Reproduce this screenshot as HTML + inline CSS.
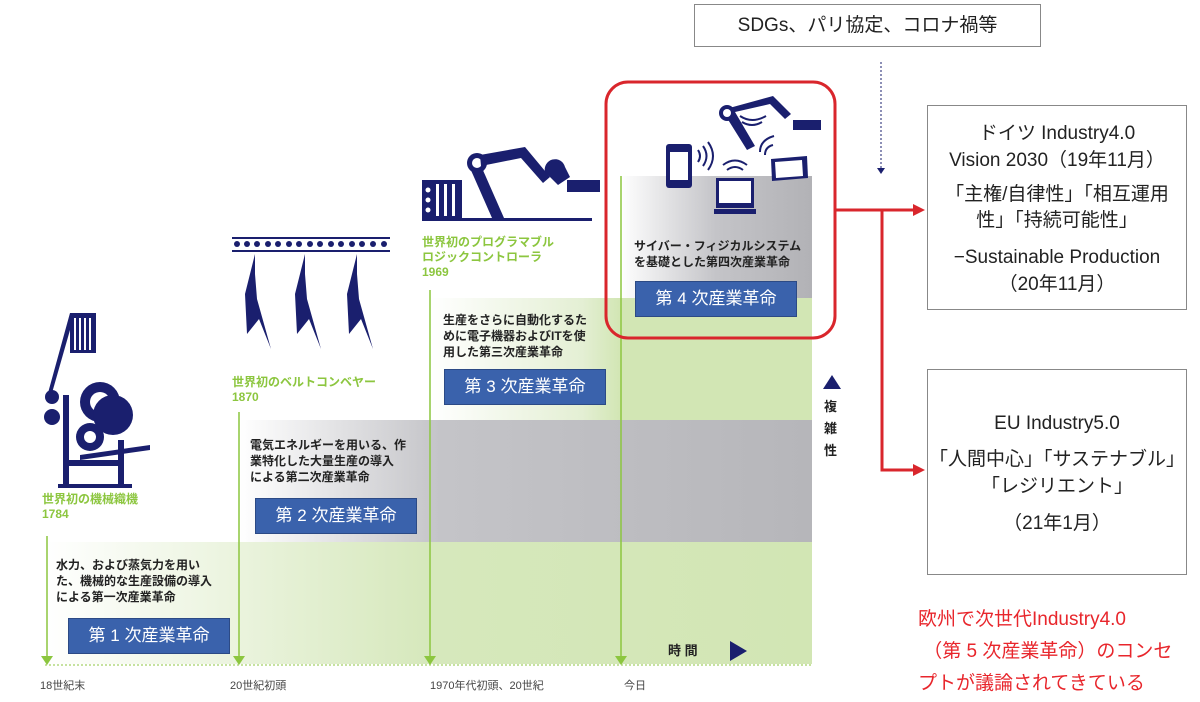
<!DOCTYPE html>
<html><head><meta charset="utf-8"><style>
body{margin:0;width:1200px;height:702px;background:#fff;position:relative;overflow:hidden;font-family:"Liberation Sans","Noto Sans CJK JP",sans-serif}
.a{position:absolute;white-space:nowrap}
.g{color:#8cc63f;font-size:12px;font-weight:bold;line-height:15px}
.d{color:#222;font-size:12px;font-weight:bold;line-height:16px}
.b{position:absolute;background:#3a62ac;color:#fff;font-size:17px;text-align:center;line-height:34px;border:1px solid #2c4a85;width:160px;height:34px}
.t{font-size:11px;color:#444}
.box{position:absolute;border:1px solid #888;background:#fff;text-align:center;color:#222;font-size:18px}
</style></head><body>
<svg class="a" style="left:0;top:0" width="1200" height="702">
<defs>
<linearGradient id="gr" x1="0" x2="1"><stop offset="0" stop-color="#fff"/><stop offset="0.5" stop-color="#d6e8bc"/><stop offset="1" stop-color="#d2e6b4"/></linearGradient>
<linearGradient id="gy" x1="0" x2="1"><stop offset="0" stop-color="#fff"/><stop offset="0.35" stop-color="#c4c4c8"/><stop offset="1" stop-color="#b6b6ba"/></linearGradient>
<linearGradient id="gr3" x1="0" x2="1"><stop offset="0" stop-color="#fff"/><stop offset="0.8" stop-color="#e4efd4"/><stop offset="1" stop-color="#d2e6b4"/></linearGradient>
<linearGradient id="gy4" x1="0" x2="1"><stop offset="0" stop-color="#fff"/><stop offset="0.5" stop-color="#c4c4c8"/><stop offset="1" stop-color="#b2b2b6"/></linearGradient>
</defs>
<rect x="45" y="542" width="767" height="122" fill="url(#gr)"/>
<rect x="240" y="420" width="572" height="122" fill="url(#gy)"/>
<rect x="430" y="298" width="190" height="122" fill="url(#gr3)"/>
<rect x="620" y="298" width="192" height="122" fill="#d2e6b4"/>
<rect x="620" y="176" width="192" height="122" fill="url(#gy4)"/>
<g stroke="#8cc63f" stroke-width="1.5" fill="none">
<line x1="47" y1="536" x2="47" y2="660"/><line x1="239" y1="412" x2="239" y2="660"/>
<line x1="430" y1="290" x2="430" y2="660"/><line x1="621" y1="176" x2="621" y2="660"/>
</g>
<g fill="#8cc63f"><path d="M41 656h12l-6 9z"/><path d="M233 656h12l-6 9z"/><path d="M424 656h12l-6 9z"/><path d="M615 656h12l-6 9z"/></g>
<line x1="45" y1="665" x2="812" y2="665" stroke="#8cc63f" stroke-dasharray="2 2"/>
<path d="M730 641l17 10l-17 10z" fill="#1a1f6e"/>
<path d="M832 375l-9 14h18z" fill="#1a1f6e"/>
<g fill="#1a1f6e">
<rect x="70" y="313" width="26" height="40"/><g fill="#fff"><rect x="74" y="318" width="2" height="32"/><rect x="79" y="318" width="2" height="32"/><rect x="84" y="318" width="2" height="32"/><rect x="89" y="318" width="2" height="32"/></g>
<path d="M70 313l-22 80h4l20-70z"/>
<circle cx="100" cy="402" r="20"/><circle cx="100" cy="402" r="10" fill="#fff"/>
<circle cx="113" cy="415" r="20"/><circle cx="52" cy="417" r="8"/><circle cx="52" cy="397" r="7"/>
<circle cx="90" cy="437" r="14"/><circle cx="90" cy="437" r="6" fill="#fff"/>
<rect x="63" y="395" width="6" height="92"/><rect x="118" y="440" width="6" height="47"/>
<rect x="58" y="484" width="74" height="4"/>
<path d="M80 455l70-10v5l-70 10z"/><rect x="68" y="460" width="55" height="6"/>
</g>
<g fill="#1a1f6e">
<rect x="232" y="237" width="158" height="2"/><rect x="232" y="250" width="158" height="2"/>
<g><circle cx="237" cy="244" r="3"/><circle cx="247" cy="244" r="3"/><circle cx="257" cy="244" r="3"/><circle cx="268" cy="244" r="3"/><circle cx="278" cy="244" r="3"/><circle cx="289" cy="244" r="3"/><circle cx="299" cy="244" r="3"/><circle cx="310" cy="244" r="3"/><circle cx="320" cy="244" r="3"/><circle cx="331" cy="244" r="3"/><circle cx="341" cy="244" r="3"/><circle cx="352" cy="244" r="3"/><circle cx="362" cy="244" r="3"/><circle cx="373" cy="244" r="3"/><circle cx="384" cy="244" r="3"/></g>
<path d="M255 254l-10 40l2 40l12-15l12 30l-14-50l-2-25z"/>
<path d="M305 254l-10 40l2 40l12-15l12 30l-14-50l-2-25z"/>
<path d="M357 254l-10 40l2 40l12-15l12 30l-14-50l-2-25z"/>
</g>
<g fill="#1a1f6e">
<rect x="422" y="180" width="40" height="40"/><g fill="#fff"><circle cx="428" cy="190" r="2.5"/><circle cx="428" cy="200" r="2.5"/><circle cx="428" cy="210" r="2.5"/><rect x="436" y="184" width="3" height="32"/><rect x="444" y="184" width="3" height="32"/><rect x="452" y="184" width="3" height="32"/></g>
<rect x="422" y="218" width="170" height="3"/>
<path d="M470 168l22 50h12l-22-50z"/><circle cx="477" cy="163" r="10"/><circle cx="477" cy="163" r="5" fill="#fff"/>
<path d="M480 155l45 -8l25 30l-7 6l-22-25l-40 8z"/>
<path d="M545 172a10 10 0 0 1 20 -5l5 10l-12 8z"/><rect x="567" y="180" width="33" height="12"/>
</g>
<g fill="#1a1f6e">
<rect x="666" y="144" width="26" height="44" rx="3"/><rect x="670" y="152" width="18" height="28" fill="#fff"/>
<rect x="716" y="178" width="38" height="30"/><rect x="719" y="181" width="32" height="22" fill="#fff"/><rect x="714" y="209" width="42" height="5"/>
<path d="M771 159l36 -3l1 22l-36 3z"/><path d="M775 162l27 -2l1 16l-27 2z" fill="#fff"/>
<path d="M722 110l25 40l8-4l-20-34l35 -8l15 15l6-5l-18-18z"/><circle cx="727" cy="113" r="8"/><circle cx="727" cy="113" r="4" fill="#fff"/>
<rect x="793" y="120" width="28" height="10"/>
</g>
<g fill="none" stroke="#1a1f6e" stroke-width="2"><path d="M698 150q4 6 0 12M703 146q7 10 0 20M708 142q10 14 0 28"/><path d="M727 170q8-6 16 0M723 165q12-9 24 0"/><path d="M765 155q0-8 8-10M760 152q0-12 14-16"/><path d="M742 122q10 6 20 0M740 116q12 8 26 0"/></g>
<rect x="606" y="82" width="229" height="256" rx="22" fill="none" stroke="#d9262c" stroke-width="3"/>
<g stroke="#d9262c" stroke-width="3" fill="none"><path d="M835 210h80"/><path d="M882 210v260h33"/></g>
<g fill="#d9262c"><path d="M913 204l12 6l-12 6z"/><path d="M913 464l12 6l-12 6z"/></g>
<line x1="881" y1="62" x2="881" y2="168" stroke="#1a1f6e" stroke-dasharray="2 2"/>
<path d="M877 168h8l-4 6z" fill="#1a1f6e"/>
</svg>
<div class="a g" style="left:42px;top:492px">世界初の機械織機<br>1784</div>
<div class="a g" style="left:232px;top:375px">世界初のベルトコンベヤー<br>1870</div>
<div class="a g" style="left:422px;top:235px">世界初のプログラマブル<br>ロジックコントローラ<br>1969</div>
<div class="a d" style="left:56px;top:557px">水力、および蒸気力を用い<br>た、機械的な生産設備の導入<br>による第一次産業革命</div>
<div class="a d" style="left:250px;top:437px">電気エネルギーを用いる、作<br>業特化した大量生産の導入<br>による第二次産業革命</div>
<div class="a d" style="left:443px;top:312px">生産をさらに自動化するた<br>めに電子機器およびITを使<br>用した第三次産業革命</div>
<div class="a d" style="left:634px;top:238px">サイバー・フィジカルシステム<br>を基礎とした第四次産業革命</div>
<div class="b" style="left:68px;top:618px">第 1 次産業革命</div>
<div class="b" style="left:255px;top:498px">第 2 次産業革命</div>
<div class="b" style="left:444px;top:369px">第 3 次産業革命</div>
<div class="b" style="left:635px;top:281px">第 4 次産業革命</div>
<div class="a t" style="left:40px;top:677px">18世紀末</div>
<div class="a t" style="left:230px;top:677px">20世紀初頭</div>
<div class="a t" style="left:430px;top:677px">1970年代初頭、20世紀</div>
<div class="a t" style="left:624px;top:677px">今日</div>
<div class="a d" style="left:668px;top:643px;font-size:13px">時 間</div>
<div class="a d" style="left:824px;top:396px;font-size:13px;line-height:22px">複<br>雑<br>性</div>
<div class="box" style="left:694px;top:4px;width:345px;height:41px;line-height:41px;font-size:19px">SDGs、パリ協定、コロナ禍等</div>
<div class="box" style="left:927px;top:105px;width:260px;height:205px;line-height:27px;font-size:19px;padding-top:14px;box-sizing:border-box">ドイツ Industry4.0<br>Vision 2030（19年11月）<div style="margin-top:8px;line-height:26px">「主権/自律性」「相互運用<br>性」「持続可能性」</div><div style="margin-top:10px;line-height:27px">−Sustainable Production<br>（20年11月）</div></div>
<div class="box" style="left:927px;top:369px;width:260px;height:206px;line-height:28px;font-size:19px;padding-top:40px;box-sizing:border-box">EU Industry5.0<div style="margin-top:8px;line-height:27px">「人間中心」「サステナブル」<br>「レジリエント」</div><div style="margin-top:10px">（21年1月）</div></div>
<div class="a" style="left:918px;top:604px;color:#e8262c;font-size:19px;line-height:32px">欧州で次世代Industry4.0<br>&nbsp;（第 5 次産業革命）のコンセ<br>プトが議論されてきている</div>
</body></html>
